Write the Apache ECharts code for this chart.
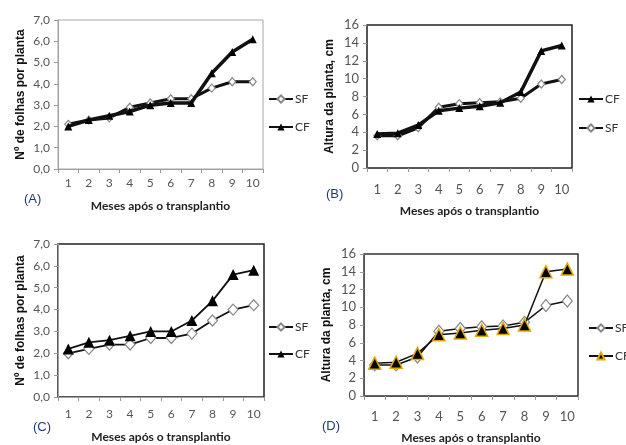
<!DOCTYPE html>
<html>
<head>
<meta charset="utf-8">
<script src="https://cdn.jsdelivr.net/npm/echarts@6/dist/echarts.min.js"></script>
<style>html,body{margin:0;padding:0;background:#fff}#c{width:626px;height:445px}</style>
</head>
<body>
<div id="c"></div>
<script>
const months = ['1','2','3','4','5','6','7','8','9','10'];
const leafTicks = [0, 1, 2, 3, 4, 5, 6, 7];
const heightTicks = [0, 2, 4, 6, 8, 10, 12, 14, 16];
// (A) Nº de folhas
const aSF = [2.1, 2.3, 2.4, 2.9, 3.1, 3.3, 3.3, 3.8, 4.1, 4.1];
const aCF = [2.0, 2.3, 2.5, 2.7, 3.0, 3.1, 3.1, 4.5, 5.5, 6.1];
// (B) Altura
const bCF = [3.8, 3.9, 4.8, 6.4, 6.7, 6.9, 7.3, 8.5, 13.1, 13.7];
const bSF = [3.6, 3.6, 4.5, 6.8, 7.2, 7.3, 7.4, 7.8, 9.4, 9.9];
// (C) Nº de folhas
const cSF = [2.0, 2.2, 2.4, 2.4, 2.7, 2.7, 2.9, 3.5, 4.0, 4.2];
const cCF = [2.2, 2.5, 2.6, 2.8, 3.0, 3.0, 3.5, 4.4, 5.6, 5.8];
// (D) Altura
const dSF = [3.5, 3.5, 4.4, 7.3, 7.6, 7.8, 7.9, 8.3, 10.2, 10.7];
const dCF = [3.7, 3.8, 4.8, 6.9, 7.1, 7.4, 7.6, 8.0, 14.0, 14.3];

const tickFont = 'Lato, "Open Sans", sans-serif';
const titleFont = '"Liberation Sans", Arial, sans-serif';
const comma = v => v.toFixed(1).replace('.', ',');

const grids = [
  {left: 58, top: 20, width: 205, height: 149, show: true, borderColor: '#a8a8a8', borderWidth: 1},
  {left: 367, top: 25, width: 205, height: 143, show: true, borderColor: '#222', borderWidth: 1.5},
  {left: 58, top: 244, width: 206, height: 153, show: true, borderColor: '#222', borderWidth: 1.5},
  {left: 364, top: 254, width: 214, height: 143, show: true, borderColor: '#333', borderWidth: 1.5}
];
const axisColors = ['#a0a0a0', '#555', '#a0a0a0', '#555'];
const labelMargins = [8, 15, 11, 14];
const nameGaps = [31, 37, 34, 36];
const labelSizes = [12, 13, 12, 13];

const xAxes = grids.map((g, i) => ({
  type: 'category', gridIndex: i, data: months, boundaryGap: true,
  axisLine: {show: true, lineStyle: {color: axisColors[i], width: 1}},
  axisTick: {show: true, length: 4, alignWithLabel: false, lineStyle: {color: '#999'}},
  axisLabel: {fontFamily: tickFont, fontSize: labelSizes[i], color: '#555', margin: labelMargins[i]},
  name: 'Meses após o transplantio', nameLocation: 'middle', nameGap: nameGaps[i],
  nameTextStyle: {fontFamily: tickFont, fontSize: 12, color: '#222', fontWeight: 'bold'}
}));

const yAxes = grids.map((g, i) => {
  const leaf = (i % 2 === 0);
  const ticks = leaf ? leafTicks : heightTicks;
  return {
    type: 'value', gridIndex: i, min: ticks[0], max: ticks[ticks.length - 1],
    interval: ticks[1] - ticks[0],
    axisLine: {show: true, lineStyle: {color: axisColors[i], width: 1}},
    axisTick: {show: true, length: 4, lineStyle: {color: '#999'}},
    splitLine: {show: false},
    axisLabel: {fontFamily: tickFont, fontSize: leaf ? 12 : 13, color: '#555', margin: 8,
      formatter: leaf ? comma : (v => String(v))},
    name: leaf ? 'Nº de folhas por planta' : 'Altura da planta, cm',
    nameLocation: 'middle', nameGap: leaf ? 31 : 31, nameRotate: 90,
    nameTextStyle: {fontFamily: titleFont, fontSize: 12, fontWeight: 'bold', color: '#111'}
  };
});

function sf(name, data, idx, lw, size) {
  return {name, type: 'line', xAxisIndex: idx, yAxisIndex: idx, data,
    symbol: 'diamond', symbolSize: size, showAllSymbol: true,
    lineStyle: {color: '#111', width: lw},
    itemStyle: {color: '#fff', borderColor: '#888', borderWidth: 1.2}, z: 2};
}
function cf(name, data, idx, lw, size, border) {
  return {name, type: 'line', xAxisIndex: idx, yAxisIndex: idx, data,
    symbol: 'triangle', symbolSize: size, showAllSymbol: true,
    lineStyle: {color: '#111', width: lw},
    itemStyle: {color: '#000', borderColor: border || '#000', borderWidth: border ? 1.5 : 0}, z: 3};
}

const series = [
  sf('SF_A', aSF, 0, 3, [7, 8]), cf('CF_A', aCF, 0, 3.5, 8),
  sf('SF_B', bSF, 1, 3, [7, 8]), cf('CF_B', bCF, 1, 3.5, 8),
  sf('SF_C', cSF, 2, 1.8, [10, 11]), cf('CF_C', cCF, 2, 1.8, 11),
  sf('SF_D', dSF, 3, 1.5, [10, 12]), cf('CF_D', dCF, 3, 1.5, 12, '#e0a800')
];

function legend(left, top, names, gap) {
  return {left, top, orient: 'vertical', itemWidth: 24, itemHeight: 9, itemGap: gap,
    padding: 0, selectedMode: false, data: names.map(n => ({name: n})),
    formatter: n => n.split('_')[0],
    textStyle: {fontFamily: tickFont, fontSize: 12, color: '#333', padding: [0, 0, 0, -3]}};
}

const letters = [['(A)', 24, 193], ['(B)', 326, 188], ['(C)', 33, 421], ['(D)', 322, 420]];

const chart = echarts.init(document.getElementById('c'), null, {renderer: 'canvas'});
chart.setOption({
  animation: false,
  backgroundColor: '#fff',
  grid: grids,
  xAxis: xAxes,
  yAxis: yAxes,
  series,
  legend: [
    legend(268, 93, ['SF_A', 'CF_A'], 16),
    legend(578, 93, ['CF_B', 'SF_B'], 17),
    legend(268, 321, ['SF_C', 'CF_C'], 15),
    legend(588, 322, ['SF_D', 'CF_D'], 16)
  ],
  graphic: letters.map(l => ({type: 'text', left: l[1], top: l[2],
    style: {text: l[0], font: '13px "Liberation Sans", Arial, sans-serif', fill: '#1f3a7a'}}))
});
</script>
</body>
</html>
